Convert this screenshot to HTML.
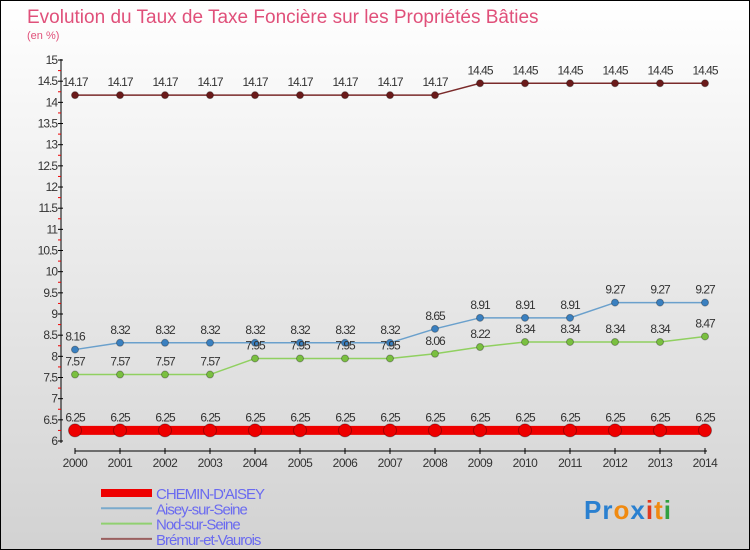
<!DOCTYPE html>
<html><head><meta charset="utf-8"><style>
body{margin:0}
#c{width:748px;height:548px;border:1px solid #000;background:linear-gradient(#fff,#d2d2d2);position:relative;font-family:"Liberation Sans",sans-serif;overflow:hidden}
</style></head><body>
<div id="c">
<svg id="s" width="748" height="548" xmlns="http://www.w3.org/2000/svg"></svg>
</div>
<script>
const years=[2000,2001,2002,2003,2004,2005,2006,2007,2008,2009,2010,2011,2012,2013,2014];
const chemin=[6.25,6.25,6.25,6.25,6.25,6.25,6.25,6.25,6.25,6.25,6.25,6.25,6.25,6.25,6.25];
const aisey=[8.16,8.32,8.32,8.32,8.32,8.32,8.32,8.32,8.65,8.91,8.91,8.91,9.27,9.27,9.27];
const nod=[7.57,7.57,7.57,7.57,7.95,7.95,7.95,7.95,8.06,8.22,8.34,8.34,8.34,8.34,8.47];
const bremur=[14.17,14.17,14.17,14.17,14.17,14.17,14.17,14.17,14.17,14.45,14.45,14.45,14.45,14.45,14.45];
const yTicks=[6,6.5,7,7.5,8,8.5,9,9.5,10,10.5,11,11.5,12,12.5,13,13.5,14,14.5,15];
const names=["CHEMIN-D'AISEY","Aisey-sur-Seine","Nod-sur-Seine","Brémur-et-Vaurois"];
const s=document.getElementById('s');
const NS='http://www.w3.org/2000/svg';
function x(i){return 74+i*45;}
function y(v){return 440-(v-6)*42.33;}
function el(t,a,p){const e=document.createElementNS(NS,t);for(const k in a)e.setAttribute(k,a[k]);(p||s).appendChild(e);return e;}
function txt(str,a){const e=el('text',a);e.textContent=str;return e;}
let t=txt('Evolution du Taux de Taxe Foncière sur les Propriétés Bâties',{x:26,y:22,'font-size':19,fill:'#e0507a'});


t=txt('(en %)',{x:26,y:38,'font-size':11,fill:'#e0507a'});


// y axis
let ax=el('line',{x1:60,y1:58,x2:60,y2:442,stroke:'#000'});


yTicks.forEach(v=>{
  el('line',{x1:57,y1:y(v),x2:62,y2:y(v),stroke:'#000'});
  if(v<15){const m=el('line',{x1:57,y1:y(v+0.25),x2:60,y2:y(v+0.25),stroke:'#e00'});}
  const l=txt(String(v),{x:56,y:y(v)+4,'font-size':12,'text-anchor':'end',fill:'#333','letter-spacing':'-1'});
  
  
});
// x axis
ax=el('line',{x1:74,y1:450,x2:706,y2:450,stroke:'#000'});


years.forEach((yr,i)=>{
  el('line',{x1:x(i),y1:447,x2:x(i),y2:453,stroke:'#000'});
  const l=txt(String(yr),{x:x(i),y:466,'font-size':12,'text-anchor':'middle',fill:'#333','letter-spacing':'-0.5'});
  
  
});
function series(data,color,dot,lw,r,name){
  const g=el('g',{});
  
  
  el('polyline',{points:data.map((v,i)=>x(i)+','+y(v)).join(' '),fill:'none',stroke:color,'stroke-width':lw},g);
  data.forEach((v,i)=>{
    const c=el('circle',{cx:x(i),cy:y(v),r:r,fill:dot,stroke:'rgba(0,0,0,0.3)','stroke-width':1},g);
    
    
    const l=el('text',{x:x(i),y:y(v)-9,'font-size':12,'text-anchor':'middle',fill:'#333','letter-spacing':'-1'},g);
    l.textContent=String(v);
    
    
  });
}
series(bremur,'#7a2a2a','#6a1a1a',1.5,3.5,'series-bremur');
series(aisey,'#6aa0cc','#3a80c0',1.5,3.5,'series-aisey');
series(nod,'#90d060','#7ac040',1.5,3.5,'series-nod');
series(chemin,'#ee0000','#ee0000',9,6.5,'series-chemin');
// legend
const lc=['#ee0000','#7aaacc','#90d070','#9a6060'],lw=[8,2,2,2];
names.forEach((n,i)=>{
  const yy=492+i*15.3;
  const g=el('g',{});
  
  
  el('line',{x1:100,y1:yy,x2:151,y2:yy,stroke:lc[i],'stroke-width':lw[i]},g);
  const l=el('text',{x:155,y:yy+6,'font-size':15,fill:'#6a6af0','letter-spacing':'-1'},g);
  l.textContent=n;
});
// logo
const lg=el('text',{x:583,y:518,'font-size':26,'font-weight':'bold','letter-spacing':'1'});


[['P','#2a80d0'],['r','#2a80d0'],['o','#f08a10'],['x','#2a80d0'],['i','#e03a20'],['t','#f08a10'],['i','#30a040']].forEach(([ch,c])=>{const sp=el('tspan',{fill:c},lg);sp.textContent=ch;});
</script>
</body></html>
